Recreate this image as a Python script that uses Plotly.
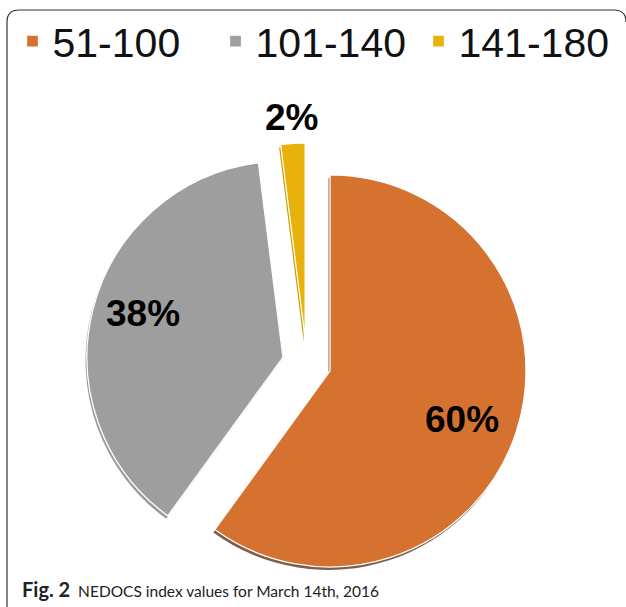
import math
import plotly.graph_objects as go

categories = ["51-100", "101-140", "141-180"]
values = [60, 38, 2]
colors = ["#D67230", "#9E9E9E", "#E8B10C"]
shadow_colors = ["#7B5E4E", "#9A9A9A", "#C9A000"]
pulls = [0.125, 0.125, 0.125]
label_radius = [0.71, 0.74, 1.13]  # fraction of radius, from slice apex
label_yshift = [-6, 8, 0]
caption_bold = "Fig. 2"
caption_text = "NEDOCS index values for March 14th, 2016"

W, H = 626, 607
DOM_X = [0.1377, 0.8422]
DOM_Y = [0.0381, 0.7646]
SHADOW_DX, SHADOW_DY = -1.5, 3.0  # px

fig = go.Figure()
# thin bevel / shadow copy underneath
fig.add_trace(go.Pie(
    labels=categories,
    values=values,
    sort=False,
    direction="clockwise",
    rotation=0,
    pull=pulls,
    marker=dict(colors=shadow_colors, line=dict(width=0)),
    textinfo="none",
    domain=dict(x=[d + SHADOW_DX / W for d in DOM_X],
                y=[d - SHADOW_DY / H for d in DOM_Y]),
    showlegend=False,
    hoverinfo="skip",
))
fig.add_trace(go.Pie(
    labels=categories,
    values=values,
    sort=False,
    direction="clockwise",
    rotation=0,
    pull=pulls,
    marker=dict(colors=colors, line=dict(width=1.3, color="white")),
    textinfo="none",
    domain=dict(x=DOM_X, y=DOM_Y),
    showlegend=True,
    hoverinfo="label+percent",
))

# percent labels placed from the data (slice mid-angles)
cx = W * (DOM_X[0] + DOM_X[1]) / 2
cy = H * (1 - (DOM_Y[0] + DOM_Y[1]) / 2)
half = min(W * (DOM_X[1] - DOM_X[0]), H * (DOM_Y[1] - DOM_Y[0])) / 2
r = half / (1 + max(pulls))
total = sum(values)
annotations = []
cum = 0.0
for v, p, k, ys in zip(values, pulls, label_radius, label_yshift):
    mid = 2 * math.pi * (cum + v / 2) / total
    cum += v
    sx, sy = math.sin(mid), math.cos(mid)
    px = cx + (p + k) * r * sx
    py = cy - (p + k) * r * sy
    annotations.append(dict(
        text=f"{round(100 * v / total)}%",
        xref="paper", yref="paper", x=px / W, y=1 - py / H, yshift=ys,
        xanchor="center", yanchor="middle", showarrow=False,
        font=dict(family="Liberation Sans, Arial", size=37, color="black", weight="bold"),
    ))

annotations.append(dict(
    text=f"<b><span style='font-size:20px'>{caption_bold}</span></b>  {caption_text}",
    xref="paper", yref="paper",
    x=20 / W, y=1 - 589 / H, xanchor="left", yanchor="middle",
    showarrow=False,
    font=dict(family="Lato, sans-serif", size=15.5, color="#222222"),
))

fig.update_layout(
    width=W, height=H,
    margin=dict(l=0, r=0, t=0, b=0),
    paper_bgcolor="white",
    plot_bgcolor="white",
    showlegend=True,
    legend=dict(
        orientation="h",
        x=0.02, xanchor="left",
        y=0.987, yanchor="top",
        font=dict(family="Liberation Sans, Arial", size=41, color="#111111"),
        entrywidth=158,
        bgcolor="rgba(0,0,0,0)",
    ),
    shapes=[dict(
        type="path",
        xref="paper", yref="paper",
        path=(f"M {7/W},0 L {7/W},{1-22/H} Q {7/W},{1-10/H} {19/W},{1-10/H} "
              f"L {614/W},{1-10/H} Q {626/W},{1-10/H} {626/W},{1-22/H}"),
        line=dict(color="#333333", width=1.2),
    )],
    annotations=annotations,
)

fig.write_html("out.html", config={"displayModeBar": False},
               post_script="document.body.style.margin='0';")
